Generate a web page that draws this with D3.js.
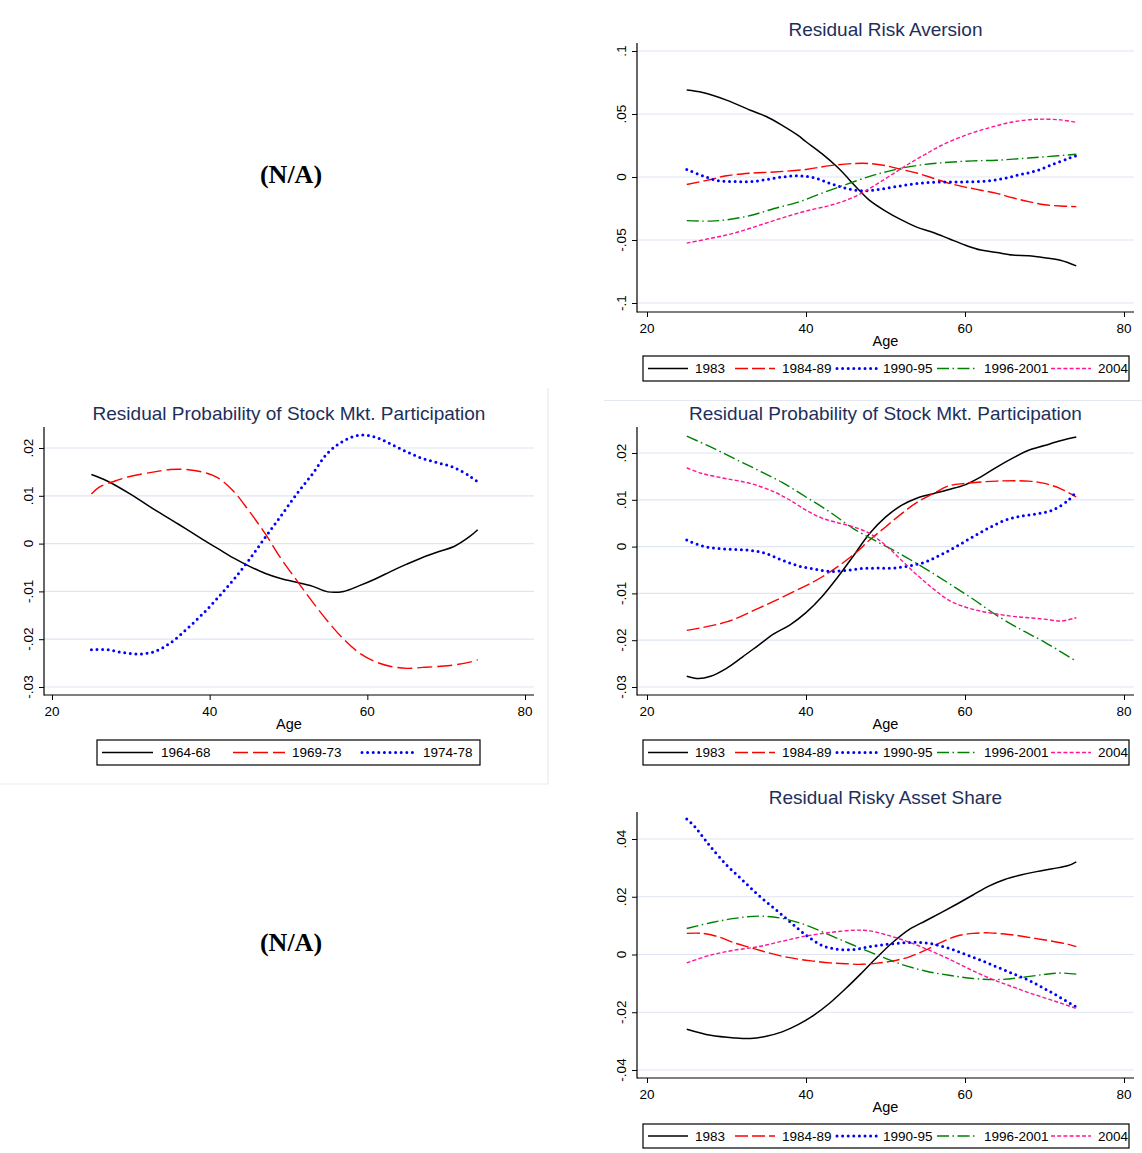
<!DOCTYPE html>
<html><head><meta charset="utf-8">
<script src="https://cdn.jsdelivr.net/npm/d3@7"></script>
<style>
html,body{margin:0;padding:0;background:#fff;}
svg{display:block;}
</style>
</head><body>
<svg id="chart" width="1142" height="1153"></svg>
<script>
// ---------------- DATA ----------------
const xTicks = [20, 40, 60, 80];
const xLabel = "Age";

// Panel A: Residual Risk Aversion (top right)
const raTitle = "Residual Risk Aversion";
const raYTicks = [0.1, 0.05, 0, -0.05, -0.1];
const ra1983 = [[25,0.069],[27,0.067],[30,0.061],[33,0.053],[35,0.048],[37,0.041],[39,0.033],[40,0.028],[42,0.0185],[44,0.0075],[45,0.001],[46,-0.006],[47,-0.0125],[48,-0.0185],[50,-0.027],[52,-0.034],[54,-0.040],[56,-0.044],[58,-0.049],[60,-0.054],[62,-0.058],[64,-0.060],[66,-0.062],[68,-0.0625],[70,-0.064],[72,-0.066],[74,-0.0705]];
const ra198489 = [[25,-0.006],[28,-0.002],[30,0.001],[33,0.003],[36,0.004],[40,0.006],[43,0.009],[46,0.0107],[48,0.0107],[50,0.009],[52,0.006],[54,0.003],[56,-0.001],[58,-0.005],[60,-0.008],[62,-0.0105],[64,-0.013],[66,-0.0165],[68,-0.0195],[70,-0.022],[72,-0.023],[74,-0.0235]];
const ra199095 = [[25,0.006],[27,0.001],[29,-0.003],[31,-0.0035],[33,-0.0037],[35,-0.002],[37,0.0],[39,0.001],[41,-0.0005],[43,-0.005],[45,-0.009],[47,-0.011],[49,-0.010],[51,-0.008],[53,-0.006],[55,-0.0045],[57,-0.004],[59,-0.004],[61,-0.0037],[63,-0.003],[65,-0.001],[67,0.002],[69,0.005],[71,0.010],[73,0.0147],[74,0.017]];
const ra19962001 = [[25,-0.0346],[28,-0.035],[30,-0.034],[33,-0.0306],[36,-0.025],[39,-0.020],[42,-0.0128],[45,-0.006],[48,0.0005],[50,0.004],[52,0.007],[55,0.010],[58,0.0117],[61,0.0128],[64,0.0133],[67,0.0146],[70,0.016],[74,0.018]];
const ra2004 = [[25,-0.0525],[28,-0.0487],[31,-0.0445],[34,-0.0386],[37,-0.0325],[40,-0.027],[43,-0.0226],[45,-0.0186],[47,-0.0128],[49,-0.0053],[51,0.0027],[53,0.0107],[55,0.018],[57,0.025],[60,0.033],[63,0.039],[66,0.0437],[69,0.0458],[72,0.0453],[74,0.0434]];

// Panel B: Residual Probability of Stock Mkt. Participation (middle left, cohorts)
const ppTitle = "Residual Probability of Stock Mkt. Participation";
const ppYTicks = [0.02, 0.01, 0, -0.01, -0.02, -0.03];
const cb196468 = [[25,0.01445],[27,0.0131],[30,0.0103],[33,0.0071],[36,0.0041],[39,0.001],[41,-0.001],[43,-0.003],[45,-0.0047],[47,-0.0062],[49,-0.0073],[51,-0.0081],[53,-0.0089],[55,-0.0101],[57,-0.0100],[59,-0.0088],[61,-0.0074],[63,-0.0058],[65,-0.0043],[67,-0.0029],[69,-0.0017],[71,-0.0006],[73,0.0015],[74,0.0029]];
const cb196973 = [[25,0.0104],[26,0.0118],[28,0.0131],[30,0.0141],[33,0.015],[35,0.0155],[37,0.0155],[39,0.015],[41,0.0138],[43,0.011],[45,0.0068],[47,0.0022],[49,-0.003],[51,-0.0076],[53,-0.0121],[55,-0.0163],[57,-0.020],[59,-0.0229],[61,-0.0247],[63,-0.0257],[65,-0.0261],[67,-0.0259],[69,-0.0257],[71,-0.0254],[73,-0.0248],[74,-0.0243]];
const cb197478 = [[25,-0.0222],[27,-0.0222],[29,-0.0228],[31,-0.0231],[33,-0.0226],[35,-0.0208],[37,-0.018],[39,-0.0149],[41,-0.0114],[43,-0.0076],[45,-0.0034],[47,0.0012],[49,0.0057],[51,0.0103],[53,0.0145],[55,0.019],[57,0.0215],[59,0.0227],[61,0.0223],[63,0.0208],[65,0.0192],[67,0.0178],[69,0.0169],[71,0.0159],[73,0.0141],[74,0.0129]];

// Panel C: Residual Probability of Stock Mkt. Participation (middle right, years)
const pp1983 = [[25,-0.0277],[26.5,-0.0282],[28,-0.0277],[30,-0.026],[32,-0.0236],[34,-0.0211],[36,-0.0186],[38,-0.0167],[40,-0.0141],[42,-0.0107],[44,-0.0065],[46,-0.0019],[48,0.0028],[50,0.0063],[52,0.0088],[54,0.0104],[56,0.0113],[58,0.0122],[60,0.0132],[62,0.0149],[64,0.017],[66,0.0189],[68,0.0206],[70,0.0216],[72,0.0226],[74,0.0234]];
const pp198489 = [[25,-0.0179],[30,-0.0161],[34,-0.0132],[38,-0.010],[42,-0.0065],[46,-0.0017],[48,0.0014],[50,0.0042],[52,0.007],[54,0.0095],[56,0.0113],[58,0.013],[60,0.0135],[64,0.014],[68,0.014],[70,0.0135],[72,0.0124],[74,0.0106]];
const pp199095 = [[25,0.0014],[27,0.0001],[29,-0.0004],[31,-0.0006],[33,-0.0008],[35,-0.0015],[37,-0.0029],[39,-0.0041],[41,-0.0048],[43,-0.0053],[45,-0.0051],[47,-0.0047],[49,-0.0046],[51,-0.0046],[53,-0.0041],[55,-0.0033],[57,-0.0017],[59,0.0001],[61,0.0021],[63,0.004],[65,0.0056],[67,0.0065],[69,0.007],[71,0.0078],[73,0.0099],[74,0.0117]];
const pp19962001 = [[25,0.0236],[28,0.0213],[31,0.0188],[34,0.0163],[37,0.0137],[40,0.0106],[43,0.0074],[46,0.0038],[49,0.001],[52,-0.0017],[55,-0.0047],[58,-0.0079],[61,-0.0112],[64,-0.0147],[67,-0.0177],[70,-0.0204],[74,-0.0245]];
const pp2004 = [[25,0.0168],[27,0.0156],[30,0.0145],[33,0.0135],[36,0.0117],[38,0.0099],[40,0.0078],[42,0.0061],[44,0.0051],[46,0.0042],[48,0.0028],[50,0.0003],[52,-0.0029],[54,-0.0061],[56,-0.009],[58,-0.0115],[60,-0.0129],[62,-0.0138],[64,-0.0144],[66,-0.0149],[68,-0.0152],[70,-0.0155],[72,-0.0159],[74,-0.0152]];

// Panel D: Residual Risky Asset Share (bottom right)
const rsTitle = "Residual Risky Asset Share";
const rsYTicks = [0.04, 0.02, 0, -0.02, -0.04];
const rs1983 = [[25,-0.0259],[28,-0.028],[31,-0.0289],[33,-0.0291],[35,-0.0283],[37,-0.0268],[39,-0.0243],[41,-0.021],[43,-0.0168],[45,-0.0118],[47,-0.0064],[49,-0.0008],[51,0.0044],[53,0.0087],[55,0.0116],[57,0.0145],[59,0.0175],[61,0.0206],[63,0.0237],[65,0.026],[67,0.0275],[69,0.0287],[71,0.0297],[73,0.0308],[74,0.0321]];
const rs198489 = [[25,0.0073],[27,0.0073],[29,0.0061],[31,0.004],[33,0.0024],[35,0.0008],[37,-0.0006],[39,-0.0016],[41,-0.0023],[43,-0.0029],[45,-0.0032],[47,-0.0034],[49,-0.003],[51,-0.0022],[53,-0.0008],[55,0.0015],[57,0.0042],[59,0.0064],[61,0.0073],[63,0.0075],[65,0.0071],[67,0.0064],[69,0.0055],[71,0.0046],[73,0.0035],[74,0.0027]];
const rs199095 = [[25,0.0469],[26,0.0443],[27,0.0408],[28,0.0373],[30,0.031],[32,0.0258],[34,0.0206],[36,0.016],[38,0.0113],[40,0.0067],[42,0.0032],[44,0.0018],[46,0.0017],[48,0.0027],[50,0.0035],[52,0.004],[54,0.0042],[56,0.0036],[58,0.0021],[60,0.0001],[62,-0.002],[64,-0.0043],[66,-0.0066],[68,-0.0089],[70,-0.0118],[72,-0.0149],[74,-0.0182]];
const rs19962001 = [[25,0.009],[28,0.011],[31,0.0125],[34,0.0133],[37,0.0125],[40,0.0102],[43,0.0067],[46,0.0032],[49,-0.0002],[52,-0.0034],[55,-0.0057],[58,-0.0072],[61,-0.0083],[64,-0.0087],[67,-0.008],[70,-0.0069],[72,-0.0064],[74,-0.0068]];
const rs2004 = [[25,-0.0029],[28,-0.0002],[31,0.0015],[34,0.0027],[37,0.0046],[40,0.0064],[43,0.0076],[46,0.0084],[48,0.0082],[50,0.0069],[52,0.0052],[54,0.0032],[56,0.0009],[58,-0.0016],[60,-0.0043],[62,-0.0069],[64,-0.0092],[66,-0.0112],[68,-0.0132],[70,-0.015],[72,-0.0168],[74,-0.0187]];

const yearNames = ["1983", "1984-89", "1990-95", "1996-2001", "2004"];
const cohortNames = ["1964-68", "1969-73", "1974-78"];
const naLabel = "(N/A)";

// ---------------- STYLES / LAYOUT ----------------
const styleSolid = {color:"#000000", dash:null, width:1.5, cap:"butt"};
const styleLong = {color:"#ff0000", dash:"13,4", width:1.4, cap:"butt"};
const styleDot  = {color:"#0000ff", dash:"0,5.6", width:3.0, cap:"round"};
const styleDashDot = {color:"#008000", dash:"12,3.5,1.5,3.5", width:1.4, cap:"butt"};
const styleShort = {color:"#ff1493", dash:"4,2.2", width:1.4, cap:"butt"};
const styleLongCohort = {color:"#ff0000", dash:"15,5", width:1.4, cap:"butt"};
const yearStyles = [styleSolid, styleLong, styleDot, styleDashDot, styleShort];
const cohortStyles = [styleSolid, styleLongCohort, styleDot];

const titleColor = "#1e2f5c";
const gridColor = "#dfe5f2";
const font = "'Liberation Sans', Arial, Helvetica, sans-serif";

const svg = d3.select("#chart");

// faint panel borders
svg.append("line").attr("x1",548).attr("x2",548).attr("y1",388).attr("y2",784).attr("stroke","#e6e9f2").attr("stroke-width",1.2);
svg.append("line").attr("x1",0).attr("x2",548).attr("y1",784).attr("y2",784).attr("stroke","#e6e9f2").attr("stroke-width",1.2);
svg.append("line").attr("x1",604).attr("x2",1142).attr("y1",400.5).attr("y2",400.5).attr("stroke","#e3e8f3").attr("stroke-width",1.2);

function fmtTick(v){ if (v === 0) return "0"; return String(+v.toFixed(4)).replace("0.", "."); }

function drawPanel(p) {
  const x = d3.scaleLinear().domain([20, 80]).range([p.x20, p.x80]);
  const y = d3.scaleLinear().domain([p.yTicks[p.yTicks.length-1], p.yTicks[0]]).range([p.yBot, p.yTop]);
  const g = svg.append("g");
  // gridlines
  g.selectAll(".grid").data(p.yTicks).enter().append("line")
    .attr("x1", p.left).attr("x2", p.right)
    .attr("y1", d => y(d)).attr("y2", d => y(d))
    .attr("stroke", gridColor).attr("stroke-width", 1.2);
  // y axis
  const ya = g.append("g").attr("transform", `translate(${p.left},0)`)
    .call(d3.axisLeft(y).tickValues(p.yTicks).tickSize(5).tickFormat(""));
  ya.select(".domain").remove();
  ya.selectAll(".tick line").attr("stroke","#000").attr("stroke-width",1);
  g.selectAll(".ylab").data(p.yTicks).enter().append("text")
    .attr("transform", d => `translate(${p.left - 11},${y(d)}) rotate(-90)`)
    .attr("text-anchor","middle").attr("font-family",font).attr("font-size",13.5).attr("fill","#000")
    .text(fmtTick);
  // x axis
  const xa = g.append("g").attr("transform", `translate(0,${p.bottom})`)
    .call(d3.axisBottom(x).tickValues(xTicks).tickSize(5).tickFormat(""));
  xa.select(".domain").remove();
  xa.selectAll(".tick line").attr("stroke","#000").attr("stroke-width",1);
  g.selectAll(".xlab").data(xTicks).enter().append("text")
    .attr("x", d => x(d)).attr("y", p.bottom + 20.5)
    .attr("text-anchor","middle").attr("font-family",font).attr("font-size",13.5).attr("fill","#000")
    .text(d => d);
  // axis lines
  g.append("line").attr("x1",p.left).attr("x2",p.left).attr("y1",p.top).attr("y2",p.bottom+0.5).attr("stroke","#000").attr("stroke-width",1.2);
  g.append("line").attr("x1",p.left).attr("x2",p.right).attr("y1",p.bottom).attr("y2",p.bottom).attr("stroke","#000").attr("stroke-width",1.2);
  // x label
  g.append("text").attr("x",(p.left+p.right)/2).attr("y",p.bottom+33.5)
    .attr("text-anchor","middle").attr("font-family",font).attr("font-size",14.5).attr("fill","#000").text(xLabel);
  // title
  g.append("text").attr("x",(p.left+p.right)/2).attr("y",p.titleY)
    .attr("text-anchor","middle").attr("font-family",font).attr("font-size",19).attr("fill",titleColor).text(p.title);
  // series
  const line = d3.line().x(d => x(d[0])).y(d => y(d[1])).curve(d3.curveCatmullRom.alpha(0.5));
  p.series.forEach((s, i) => {
    const st = p.styles[i];
    g.append("path").datum(s).attr("d", line).attr("fill","none")
      .attr("stroke", st.color).attr("stroke-width", st.width)
      .attr("stroke-dasharray", st.dash).attr("stroke-linecap", st.cap).attr("stroke-linejoin","round");
  });
  // legend
  const L = p.legend;
  const lg = g.append("g");
  lg.append("rect").attr("x",L.x0).attr("y",L.y0).attr("width",L.x1-L.x0).attr("height",L.y1-L.y0)
    .attr("fill","#fff").attr("stroke","#000").attr("stroke-width",1.2);
  const cy = (L.y0 + L.y1)/2;
  p.names.forEach((n, i) => {
    const st = p.styles[i];
    lg.append("line").attr("x1",L.samples[i][0]).attr("x2",L.samples[i][1]).attr("y1",cy).attr("y2",cy)
      .attr("stroke",st.color).attr("stroke-width",st.width).attr("stroke-dasharray",st.dash).attr("stroke-linecap",st.cap);
    lg.append("text").attr("x",L.texts[i]).attr("y",cy+4.8).attr("font-family",font).attr("font-size",13.5)
      .attr("fill","#000").text(n);
  });
}

const yearLegendSamples = [[648,688],[735,775],[837,877],[937,978],[1051,1091]];
const yearLegendTexts = [695, 782, 883, 984, 1098];

drawPanel({
  title: raTitle, titleY: 35.5, yTicks: raYTicks, series: [ra1983, ra198489, ra199095, ra19962001, ra2004],
  names: yearNames, styles: yearStyles,
  x20: 647, x80: 1124, yTop: 51, yBot: 303, left: 637, right: 1134, top: 43, bottom: 312,
  legend: {x0:643, x1:1129, y0:356, y1:381, samples: yearLegendSamples, texts: yearLegendTexts}
});

drawPanel({
  title: ppTitle, titleY: 419.5, yTicks: ppYTicks, series: [cb196468, cb196973, cb197478],
  names: cohortNames, styles: cohortStyles,
  x20: 52, x80: 525, yTop: 448, yBot: 687, left: 44, right: 534, top: 427, bottom: 695,
  legend: {x0:97, x1:480, y0:740, y1:765, samples: [[102,153],[233,285],[362,415]], texts: [161, 292, 423]}
});

drawPanel({
  title: ppTitle, titleY: 419.5, yTicks: ppYTicks, series: [pp1983, pp198489, pp199095, pp19962001, pp2004],
  names: yearNames, styles: yearStyles,
  x20: 647, x80: 1124, yTop: 453, yBot: 687, left: 637, right: 1134, top: 427, bottom: 695,
  legend: {x0:643, x1:1129, y0:740, y1:765, samples: yearLegendSamples, texts: yearLegendTexts}
});

drawPanel({
  title: rsTitle, titleY: 803.5, yTicks: rsYTicks, series: [rs1983, rs198489, rs199095, rs19962001, rs2004],
  names: yearNames, styles: yearStyles,
  x20: 647, x80: 1124, yTop: 839, yBot: 1070, left: 637, right: 1134, top: 812, bottom: 1078,
  legend: {x0:643, x1:1129, y0:1124, y1:1148, samples: yearLegendSamples, texts: yearLegendTexts}
});

// N/A placeholders
[183, 951].forEach(yy => {
  svg.append("text").attr("x",291).attr("y",yy).attr("text-anchor","middle")
    .attr("font-family","'Liberation Serif','Times New Roman',serif").attr("font-weight","bold")
    .attr("font-size",26).attr("fill","#000").text(naLabel);
});
</script>
</body></html>
